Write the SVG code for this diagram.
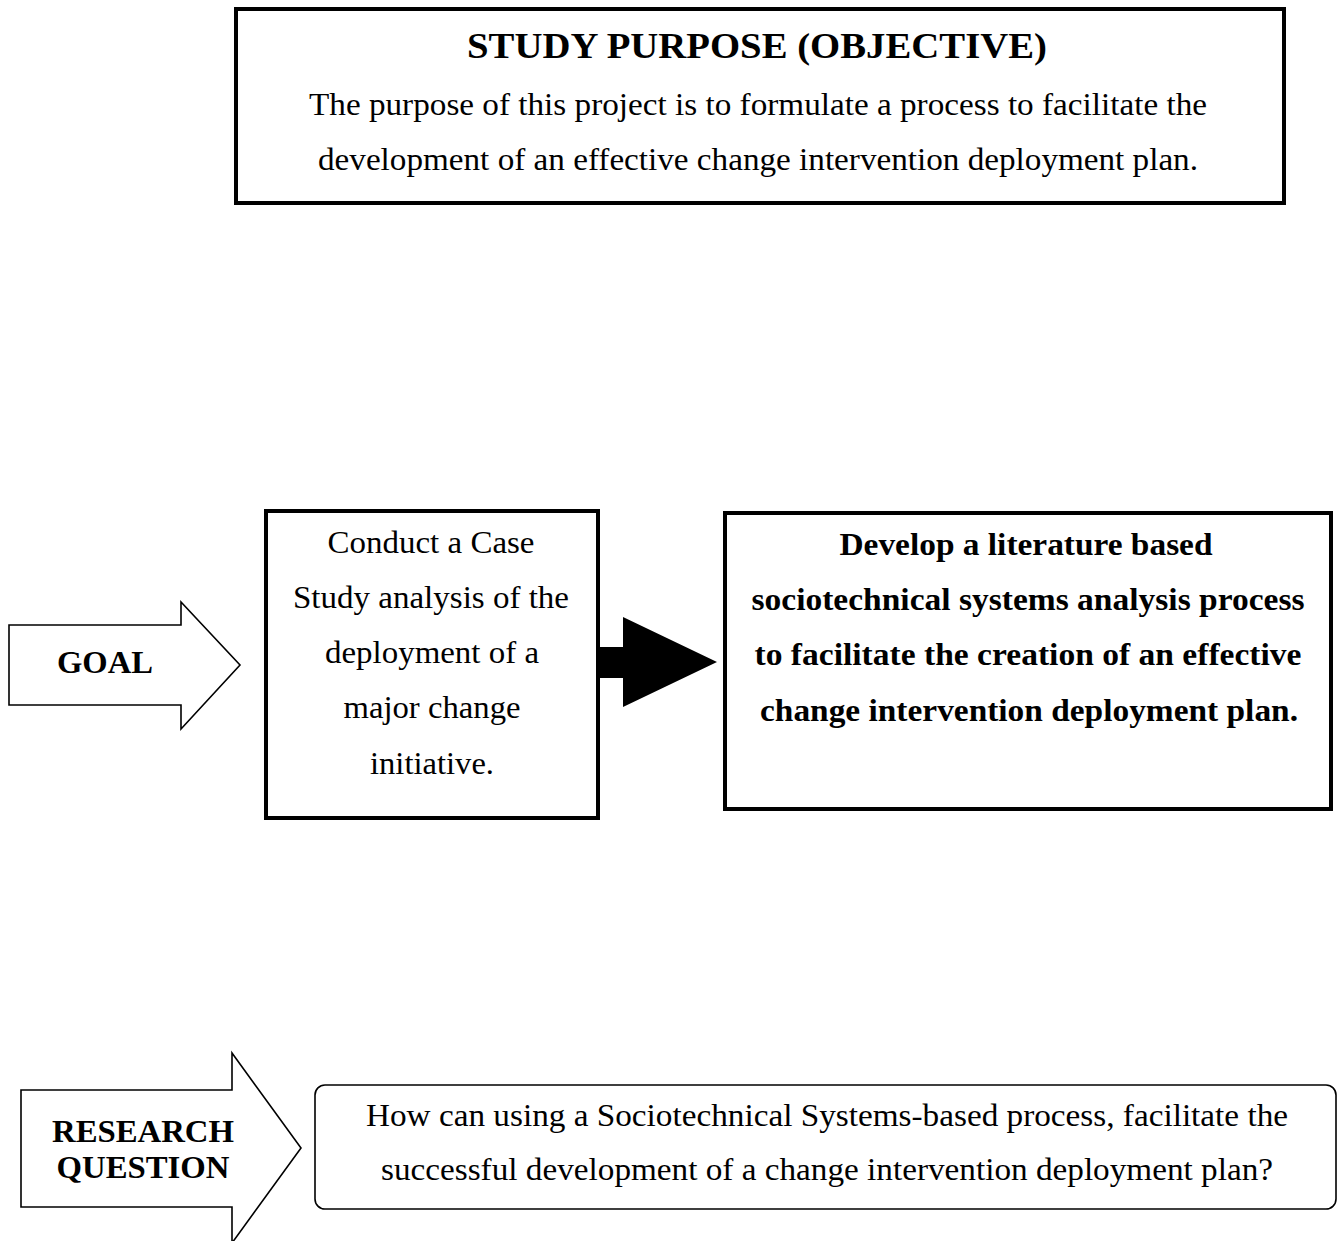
<svg xmlns="http://www.w3.org/2000/svg" width="1339" height="1241" viewBox="0 0 1339 1241">
<style>
.box{fill:#fff;stroke:#000;stroke-width:4}
.thin{fill:#fff;stroke:#000;stroke-width:1.6}
.t{font-family:"Liberation Serif","Times New Roman",serif;font-size:32px;fill:#000;text-anchor:middle}
.b{font-weight:bold;font-size:31px}
</style>
<rect width="1339" height="1241" fill="#fff"/>
<g id="purpose">
<rect class="box" x="236" y="9" width="1048" height="194"/>
<text class="t b" x="757" y="58" style="font-size:36px" textLength="580" lengthAdjust="spacingAndGlyphs">STUDY PURPOSE (OBJECTIVE)</text>
<text class="t" x="758" y="115" textLength="898" lengthAdjust="spacingAndGlyphs">The purpose of this project is to formulate a process to facilitate the</text>
<text class="t" x="758" y="170" textLength="880" lengthAdjust="spacingAndGlyphs">development of an effective change intervention deployment plan.</text>
</g>
<g id="goal">
<polygon class="thin" points="9,625 181,625 181,602 240,665 181,729 181,705 9,705"/>
<text class="t b" x="105" y="673" textLength="96" lengthAdjust="spacingAndGlyphs">GOAL</text>
</g>
<g id="case-study">
<rect class="box" x="266" y="511" width="332" height="307"/>
<text class="t" x="431" y="553" textLength="207" lengthAdjust="spacingAndGlyphs">Conduct a Case</text>
<text class="t" x="431" y="608" textLength="276" lengthAdjust="spacingAndGlyphs">Study analysis of the</text>
<text class="t" x="432" y="663" textLength="214" lengthAdjust="spacingAndGlyphs">deployment of a</text>
<text class="t" x="432" y="718" textLength="177" lengthAdjust="spacingAndGlyphs">major change</text>
<text class="t" x="432" y="774" textLength="124" lengthAdjust="spacingAndGlyphs">initiative.</text>
</g>
<g id="develop">
<rect class="box" x="725" y="513" width="606" height="296"/>
<text class="t b" x="1026" y="555" textLength="373" lengthAdjust="spacingAndGlyphs">Develop a literature based</text>
<text class="t b" x="1028" y="610" textLength="553" lengthAdjust="spacingAndGlyphs">sociotechnical systems analysis process</text>
<text class="t b" x="1028" y="665" textLength="547" lengthAdjust="spacingAndGlyphs">to facilitate the creation of an effective</text>
<text class="t b" x="1029" y="721" textLength="538" lengthAdjust="spacingAndGlyphs">change intervention deployment plan.</text>
</g>
<g id="research-question">
<polygon class="thin" points="21,1090 232,1090 232,1053 301,1148 232,1243 232,1207 21,1207"/>
<text class="t b" x="143" y="1142" textLength="182" lengthAdjust="spacingAndGlyphs">RESEARCH</text>
<text class="t b" x="143" y="1178" textLength="173" lengthAdjust="spacingAndGlyphs">QUESTION</text>
</g>
<g id="question-box">
<rect class="thin" x="315" y="1085" width="1021" height="124" rx="10"/>
<text class="t" x="827" y="1126" textLength="922" lengthAdjust="spacingAndGlyphs">How can using a Sociotechnical Systems-based process, facilitate the</text>
<text class="t" x="827" y="1180" textLength="892" lengthAdjust="spacingAndGlyphs">successful development of a change intervention deployment plan?</text>
</g>
<g id="connectors">
<polygon fill="#000" points="598,647 623,647 623,617 717,662 623,707 623,678 598,678"/>
</g>
</svg>
